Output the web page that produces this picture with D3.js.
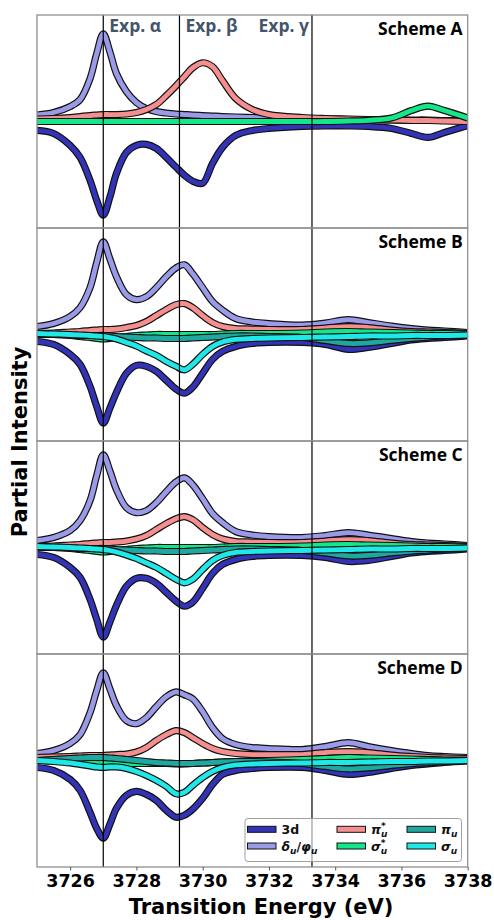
<!DOCTYPE html>
<html><head><meta charset="utf-8">
<script src="https://cdn.jsdelivr.net/npm/d3@7"></script>
<style>
html,body{margin:0;padding:0;background:#fff;}
svg{display:block;}
</style></head>
<body>
<svg id="chart" width="494" height="920"></svg>
<script>
// ---------- DATA ----------
const energy = [3725, 3725.5, 3726, 3726.3, 3726.6, 3726.8, 3727, 3727.2, 3727.4, 3727.7,
  3728, 3728.3, 3728.6, 3728.9, 3729.2, 3729.45, 3729.7, 3730, 3730.3, 3730.6,
  3731, 3731.5, 3732, 3733, 3733.7, 3734.4, 3735, 3735.7, 3736.3, 3736.8, 3737.3, 3738];

const schemes = ["Scheme A", "Scheme B", "Scheme C", "Scheme D"];
const seriesNames = ["3d", "δu/φu", "π*u", "σ*u", "πu", "σu"];
const seriesColors = ["#3333b5", "#9a9ae8", "#f58f8f", "#14e68a", "#1fa89f", "#1ee8e8"];
const expEnergies = [3727.0, 3729.3, 3733.3];
const expLabels = ["Exp. α", "Exp. β", "Exp. γ"];
const xTicks = [3726, 3728, 3730, 3732, 3734, 3736, 3738];

// Scheme A
const A_3d = [-0.09, -0.12, -0.24, -0.36, -0.59, -0.79, -0.94, -0.76, -0.52, -0.31,
  -0.24, -0.23, -0.27, -0.36, -0.46, -0.54, -0.60, -0.62, -0.42, -0.26,
  -0.14, -0.09, -0.07, -0.05, -0.045, -0.045, -0.05, -0.07, -0.12, -0.16, -0.11, -0.04];
const A_delta = [0.065, 0.09, 0.15, 0.22, 0.43, 0.68, 0.88, 0.70, 0.48, 0.30,
  0.19, 0.13, 0.10, 0.085, 0.075, 0.07, 0.065, 0.06, 0.055, 0.05,
  0.045, 0.04, 0.035, 0.03, 0.025, 0.02, 0.02, 0.015, 0.015, 0.015, 0.01, 0.01];
const A_piStar = [0.025, 0.03, 0.04, 0.05, 0.06, 0.065, 0.07, 0.07, 0.07, 0.075,
  0.09, 0.12, 0.17, 0.26, 0.36, 0.45, 0.54, 0.59, 0.55, 0.41,
  0.23, 0.12, 0.07, 0.04, 0.03, 0.025, 0.02, 0.015, 0.01, 0.01, 0.005, 0.0];
const A_sigmaStar = [0, 0, 0, 0, 0, 0, 0, 0, 0, 0,
  0, 0, 0, 0, 0, 0, 0, 0, 0, 0,
  0, 0, 0, 0, 0, 0.005, 0.012, 0.035, 0.11, 0.155, 0.11, 0.035];

// Scheme B
const B_3d = [-0.07, -0.10, -0.20, -0.30, -0.52, -0.72, -0.89, -0.74, -0.58, -0.39,
  -0.31, -0.32, -0.37, -0.46, -0.55, -0.59, -0.53, -0.39, -0.25, -0.17,
  -0.12, -0.09, -0.08, -0.08, -0.10, -0.15, -0.13, -0.09, -0.055, -0.04, -0.03, -0.015];
const B_delta = [0.08, 0.11, 0.18, 0.27, 0.47, 0.72, 0.93, 0.76, 0.58, 0.40,
  0.35, 0.38, 0.47, 0.58, 0.67, 0.70, 0.61, 0.47, 0.33, 0.245,
  0.16, 0.125, 0.11, 0.095, 0.115, 0.15, 0.12, 0.085, 0.06, 0.045, 0.035, 0.02];
const B_piStar = [0.01, 0.015, 0.025, 0.03, 0.04, 0.045, 0.05, 0.05, 0.055, 0.07,
  0.09, 0.13, 0.19, 0.25, 0.30, 0.31, 0.27, 0.19, 0.12, 0.08,
  0.06, 0.055, 0.05, 0.05, 0.065, 0.08, 0.07, 0.045, 0.03, 0.025, 0.02, 0.01];
const B_sigmaStar = [0, 0, -0.01, -0.02, -0.03, -0.04, -0.045, -0.04, -0.03, -0.02,
  -0.01, -0.005, 0, 0, 0, 0, 0, 0, 0, 0.005,
  0.01, 0.01, 0.01, 0.015, 0.025, 0.03, 0.025, 0.02, 0.015, 0.01, 0.01, 0.005];
const B_pi = [0.005, 0.0, -0.005, -0.01, -0.01, -0.01, -0.01, -0.015, -0.02, -0.025,
  -0.03, -0.035, -0.035, -0.04, -0.04, -0.04, -0.035, -0.03, -0.025, -0.02,
  -0.015, -0.015, -0.02, -0.03, -0.06, -0.09, -0.085, -0.06, -0.04, -0.025, -0.015, -0.005];
const B_sigma = [0.01, 0.005, 0.0, -0.005, -0.01, -0.015, -0.02, -0.03, -0.045, -0.08,
  -0.115, -0.165, -0.21, -0.27, -0.32, -0.355, -0.30, -0.20, -0.12, -0.075,
  -0.05, -0.04, -0.035, -0.03, -0.025, -0.02, -0.015, -0.015, -0.01, -0.01, -0.01, -0.005];

// Scheme C
const C_3d = [-0.07, -0.10, -0.20, -0.30, -0.52, -0.72, -0.90, -0.75, -0.58, -0.39,
  -0.31, -0.31, -0.36, -0.45, -0.54, -0.59, -0.55, -0.41, -0.26, -0.17,
  -0.12, -0.09, -0.08, -0.08, -0.10, -0.14, -0.13, -0.09, -0.055, -0.04, -0.03, -0.015];
const C_delta = [0.07, 0.10, 0.17, 0.27, 0.47, 0.72, 0.93, 0.77, 0.58, 0.40,
  0.35, 0.37, 0.45, 0.56, 0.66, 0.70, 0.63, 0.49, 0.34, 0.25,
  0.16, 0.125, 0.11, 0.10, 0.12, 0.15, 0.125, 0.09, 0.06, 0.045, 0.035, 0.02];
const C_piStar = [0.01, 0.015, 0.025, 0.03, 0.04, 0.045, 0.05, 0.05, 0.055, 0.065,
  0.085, 0.12, 0.18, 0.24, 0.29, 0.31, 0.28, 0.20, 0.13, 0.085,
  0.06, 0.055, 0.05, 0.05, 0.065, 0.08, 0.07, 0.045, 0.03, 0.025, 0.02, 0.01];
const C_sigmaStar = [0, 0, -0.01, -0.02, -0.03, -0.04, -0.045, -0.04, -0.03, -0.02,
  -0.01, -0.005, 0, 0, 0, 0, 0, 0, 0, 0.005,
  0.01, 0.01, 0.01, 0.015, 0.025, 0.03, 0.025, 0.02, 0.015, 0.01, 0.01, 0.005];
const C_pi = [0.005, 0.0, -0.005, -0.01, -0.01, -0.01, -0.01, -0.015, -0.02, -0.025,
  -0.03, -0.035, -0.035, -0.04, -0.04, -0.04, -0.035, -0.03, -0.025, -0.02,
  -0.015, -0.015, -0.02, -0.03, -0.055, -0.085, -0.08, -0.055, -0.035, -0.025, -0.015, -0.005];
const C_sigma = [0.01, 0.005, 0.0, -0.005, -0.01, -0.015, -0.02, -0.03, -0.045, -0.075,
  -0.11, -0.155, -0.20, -0.26, -0.32, -0.355, -0.32, -0.22, -0.13, -0.08,
  -0.05, -0.04, -0.035, -0.03, -0.025, -0.02, -0.015, -0.015, -0.01, -0.01, -0.01, -0.005];

// Scheme D
const D_3d = [-0.07, -0.10, -0.19, -0.30, -0.52, -0.68, -0.78, -0.64, -0.48, -0.35,
  -0.31, -0.34, -0.40, -0.50, -0.57, -0.55, -0.49, -0.38, -0.24, -0.14,
  -0.10, -0.08, -0.07, -0.07, -0.10, -0.14, -0.12, -0.08, -0.05, -0.035, -0.02, -0.005];
const D_delta = [0.07, 0.10, 0.17, 0.26, 0.48, 0.70, 0.88, 0.72, 0.55, 0.40,
  0.37, 0.43, 0.54, 0.64, 0.69, 0.66, 0.62, 0.49, 0.33, 0.22,
  0.16, 0.13, 0.12, 0.11, 0.14, 0.18, 0.14, 0.10, 0.07, 0.05, 0.04, 0.03];
const D_piStar = [0.03, 0.035, 0.04, 0.045, 0.05, 0.05, 0.05, 0.055, 0.06, 0.065,
  0.085, 0.13, 0.20, 0.26, 0.30, 0.28, 0.23, 0.17, 0.12, 0.09,
  0.07, 0.06, 0.06, 0.06, 0.08, 0.09, 0.08, 0.055, 0.04, 0.03, 0.025, 0.02];
const D_sigmaStar = [0, -0.005, -0.01, -0.015, -0.02, -0.03, -0.03, -0.03, -0.03, -0.03,
  -0.03, -0.03, -0.03, -0.03, -0.035, -0.035, -0.03, -0.025, -0.02, -0.015,
  -0.01, -0.005, 0, 0.01, 0.02, 0.03, 0.025, 0.02, 0.015, 0.01, 0.005, 0.005];
const D_pi = [0.0, 0.01, 0.02, 0.025, 0.03, 0.03, 0.03, 0.025, 0.02, 0.01,
  0.0, -0.01, -0.02, -0.025, -0.03, -0.03, -0.03, -0.025, -0.02, -0.015,
  -0.01, -0.01, -0.015, -0.03, -0.06, -0.085, -0.075, -0.05, -0.03, -0.02, -0.01, 0.0];
const D_sigma = [0.0, -0.01, -0.025, -0.04, -0.055, -0.065, -0.07, -0.065, -0.065, -0.08,
  -0.11, -0.15, -0.20, -0.26, -0.335, -0.32, -0.25, -0.17, -0.11, -0.07,
  -0.045, -0.035, -0.03, -0.025, -0.02, -0.02, -0.015, -0.01, -0.01, -0.005, -0.005, 0.0];

const panelSeries = [
  [A_3d, A_delta, A_piStar, A_sigmaStar, null, null],
  [B_3d, B_delta, B_piStar, B_sigmaStar, B_pi, B_sigma],
  [C_3d, C_delta, C_piStar, C_sigmaStar, C_pi, C_sigma],
  [D_3d, D_delta, D_piStar, D_sigmaStar, D_pi, D_sigma]
];

// ---------- LAYOUT ----------
const svg = d3.select("#chart");
const left = 37, right = 467.7, top0 = 15, panelH = 213;
const x = d3.scaleLinear().domain([3725, 3738]).range([left, right]);
const frameColor = "#8f8f8f";

panelSeries.forEach((series, pi) => {
  const pTop = top0 + pi * panelH, pBot = pTop + panelH;
  const y = d3.scaleLinear().domain([-1.07, 1.07]).range([pBot, pTop]);
  const g = svg.append("g");
  const clipId = "clip" + pi;
  svg.append("clipPath").attr("id", clipId).append("rect")
    .attr("x", left).attr("y", pTop).attr("width", right - left).attr("height", panelH);
  const cg = g.append("g").attr("clip-path", `url(#${clipId})`);
  const line = d3.line().x((d, i) => x(energy[i])).y(d => y(d)).curve(d3.curveCatmullRom.alpha(0.5));
  series.forEach((vals, si) => {
    if (!vals) return;
    cg.append("path").attr("d", line(vals)).attr("fill", "none")
      .attr("stroke", "#111").attr("stroke-width", 7.2).attr("stroke-linejoin", "round").attr("stroke-linecap", "butt");
    cg.append("path").attr("d", line(vals)).attr("fill", "none")
      .attr("stroke", seriesColors[si]).attr("stroke-width", 4.8).attr("stroke-linejoin", "round").attr("stroke-linecap", "butt");
  });
  // vertical experimental lines
  expEnergies.forEach(e => {
    g.append("line").attr("x1", x(e)).attr("x2", x(e)).attr("y1", pTop).attr("y2", pBot)
      .attr("stroke", "#000").attr("stroke-width", 1.2);
  });
  // frame
  g.append("rect").attr("x", left).attr("y", pTop).attr("width", right - left).attr("height", panelH)
    .attr("fill", "none").attr("stroke", frameColor).attr("stroke-width", 1.3);
  // scheme label
  g.append("text").attr("x", right - 5).attr("y", pTop + 20).attr("text-anchor", "end")
    .attr("font-family", "'Open Sans', sans-serif").attr("font-weight", 700).attr("font-size", 17.5)
    .attr("fill", "#000").text(schemes[pi]);
});

// Experimental labels in top panel
const expG = svg.append("g").attr("font-family", "'Open Sans', sans-serif").attr("font-weight", 700)
  .attr("font-size", 17.5).attr("fill", "#44546a");
expG.append("text").attr("x", x(expEnergies[0]) + 6).attr("y", 32).text(expLabels[0]);
expG.append("text").attr("x", x(expEnergies[1]) + 6).attr("y", 32).text(expLabels[1]);
expG.append("text").attr("x", x(expEnergies[2]) - 3).attr("y", 32).attr("text-anchor", "end").text(expLabels[2]);

// x axis
const bottom = top0 + 4 * panelH;
const axis = d3.axisBottom(x).tickValues(xTicks).tickSize(3.5).tickPadding(4).tickFormat(d3.format("d"));
const ag = svg.append("g").attr("transform", `translate(0,${bottom})`).call(axis);
ag.select(".domain").remove();
ag.selectAll(".tick line").attr("stroke", "#555").attr("stroke-width", 1);
ag.selectAll(".tick text").attr("font-family", "'DejaVu Sans', sans-serif").attr("font-weight", "bold")
  .attr("font-size", 17.5).attr("fill", "#000");

svg.append("text").attr("x", 261).attr("y", 914).attr("text-anchor", "middle")
  .attr("font-family", "'DejaVu Sans', sans-serif").attr("font-weight", "bold").attr("font-size", 21)
  .text("Transition Energy (eV)");
svg.append("text").attr("transform", "translate(27,442) rotate(-90)").attr("text-anchor", "middle")
  .attr("font-family", "'DejaVu Sans', sans-serif").attr("font-weight", "bold").attr("font-size", 21)
  .text("Partial Intensity");

// legend
const lg = svg.append("g");
lg.append("rect").attr("x", 245).attr("y", 818.5).attr("width", 216.5).attr("height", 43).attr("rx", 3)
  .attr("fill", "#fff").attr("fill-opacity", 0.6).attr("stroke", "#a0a0a0").attr("stroke-width", 1);
const legendParts = [
  [["3d", "n"]],
  [["δ", "i"], ["u", "sub"], ["/", "n"], ["φ", "i"], ["u", "sub"]],
  [["π", "i"], ["*", "sup"], ["u", "subBack"]],
  [["σ", "i"], ["*", "sup"], ["u", "subBack"]],
  [["π", "i"], ["u", "sub"]],
  [["σ", "i"], ["u", "sub"]]
];
const colX = [247.5, 337, 407];
const rowY = [829.3, 846];
seriesNames.forEach((name, i) => {
  const c = Math.floor(i / 2), r = i % 2;
  const hx = colX[c], hy = rowY[r];
  lg.append("rect").attr("x", hx).attr("y", hy - 3).attr("width", 28.5).attr("height", 6)
    .attr("fill", seriesColors[i]).attr("stroke", "#111").attr("stroke-width", 1);
  const t = lg.append("g").attr("font-family", "'DejaVu Sans', sans-serif").attr("font-weight", "bold");
  let cx = hx + 34, lastW = 0;
  legendParts[i].forEach(([txt, kind]) => {
    let fs = 12.5, dy = 4.5, back = 0, italic = false;
    if (kind === "i") italic = true;
    if (kind === "sub") { fs = 9; dy = 7.5; italic = true; }
    if (kind === "sup") { fs = 9; dy = -0.5; }
    if (kind === "subBack") { fs = 9; dy = 8; italic = true; back = lastW; }
    const el = t.append("text").attr("x", cx - back).attr("y", hy + dy).attr("font-size", fs)
      .attr("font-style", italic ? "italic" : "normal").attr("fill", "#111").text(txt);
    const w = el.node().getComputedTextLength();
    if (kind === "subBack") { cx = Math.max(cx, cx - back + w); }
    else cx += w;
    lastW = w;
  });
});
</script>
</body></html>
